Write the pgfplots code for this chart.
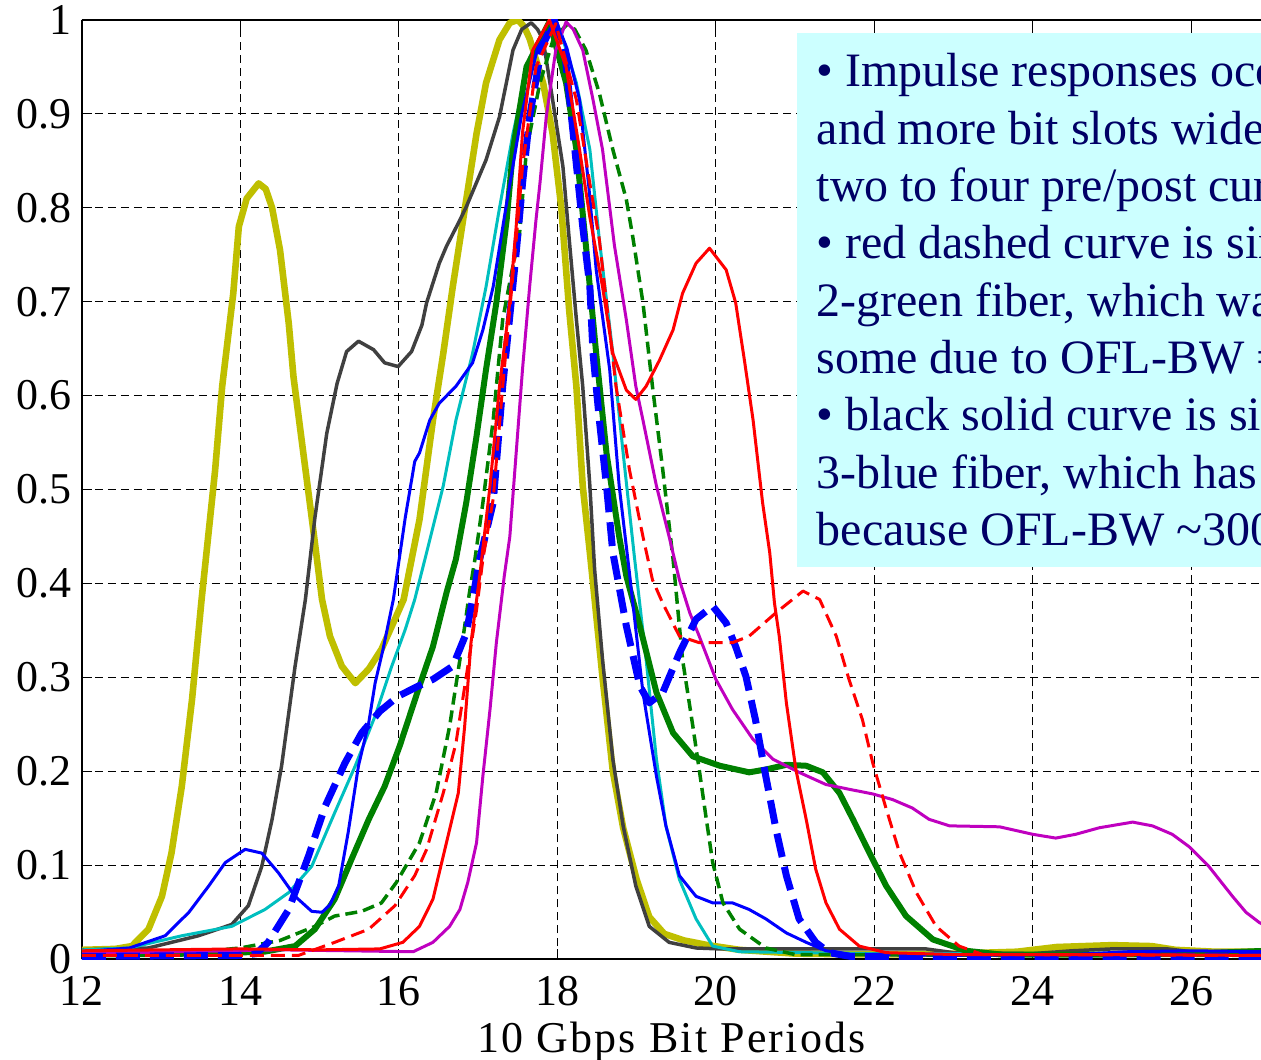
\documentclass[border=0pt]{standalone}
\usepackage{fontspec}
\setmainfont{Liberation Serif}
\usepackage{pgfplots}
\pgfplotsset{compat=1.18}
\definecolor{myyel}{HTML}{BFBF00}
\definecolor{mygray}{HTML}{404040}
\definecolor{mycyan}{HTML}{00BFBF}
\definecolor{mygreen}{HTML}{008000}
\definecolor{mymag}{HTML}{BF00BF}
\definecolor{boxfill}{HTML}{CCFFFF}
\definecolor{boxtext}{HTML}{000066}
\begin{document}
\begin{tikzpicture}
\begin{axis}[
  scale only axis, width=590pt, height=470pt,
  xmin=12, xmax=26.88, ymin=0, ymax=1,
  xtick={12,14,16,18,20,22,24,26},
  ytick={0,0.1,0.2,0.3,0.4,0.5,0.6,0.7,0.8,0.9,1},
  axis x line=box, axis y line*=left,
  tick align=inside, major tick length=5pt,
  grid=major,
  grid style={black, line width=0.5pt, dash pattern=on 4pt off 2.5pt},
  axis line style={black, line width=0.75pt},
  tick style={black, line width=0.5pt},
  /pgf/number format/assume math mode=true,
  ticklabel style={font=\fontsize{22}{22}\selectfont},
  xticklabel style={yshift=-5pt},
  yticklabel style={xshift=-1.5pt},
  xlabel={10 Gbps Bit Periods},
  xlabel style={font=\fontsize{22}{22}\selectfont\addfontfeature{LetterSpace=5}, yshift=-1pt},
  line join=round,
]
\coordinate (sw) at (rel axis cs:0,0);
\coordinate (ne) at (rel axis cs:1,1);
% yellow thick
\addplot[myyel, line width=3.3pt] coordinates {
(12,0.010)(12.42,0.011)(12.63,0.014)(12.84,0.032)(13.01,0.067)(13.13,0.113)(13.26,0.184)(13.39,0.277)(13.51,0.383)(13.68,0.52)(13.77,0.61)(13.91,0.709)(13.98,0.78)(14.08,0.81)(14.23,0.826)(14.32,0.82)(14.40,0.80)(14.50,0.755)(14.61,0.677)(14.67,0.62)(14.80,0.535)(14.90,0.47)(15.03,0.383)(15.13,0.344)(15.28,0.312)(15.45,0.294)(15.62,0.309)(15.78,0.33)(15.95,0.362)(16.06,0.383)(16.26,0.468)(16.43,0.574)(16.56,0.645)(16.68,0.716)(16.81,0.787)(16.98,0.879)(17.10,0.933)(17.27,0.979)(17.40,0.997)(17.50,1.0)(17.58,0.993)(17.65,0.98)(17.82,0.933)(17.94,0.879)(18.05,0.80)(18.15,0.69)(18.24,0.61)(18.32,0.504)(18.41,0.433)(18.45,0.40)(18.57,0.30)(18.70,0.20)(18.83,0.14)(19.0,0.085)(19.16,0.045)(19.35,0.027)(19.6,0.02)(19.9,0.015)(20.3,0.01)(21,0.006)(22,0.005)(23,0.006)(23.8,0.008)(24.3,0.013)(25.0,0.015)(25.5,0.014)(25.8,0.01)(26.3,0.008)(26.95,0.008)
};
% dark gray
\addplot[mygray, line width=1.75pt] coordinates {
(12,0.010)(12.84,0.012)(13.47,0.025)(13.89,0.037)(14.10,0.057)(14.27,0.099)(14.40,0.149)(14.52,0.206)(14.69,0.312)(14.82,0.383)(14.94,0.47)(15.09,0.56)(15.22,0.613)(15.34,0.647)(15.49,0.658)(15.68,0.649)(15.82,0.635)(15.99,0.631)(16.16,0.647)(16.29,0.675)(16.35,0.699)(16.51,0.741)(16.60,0.759)(16.77,0.787)(16.85,0.801)(17.10,0.851)(17.27,0.897)(17.44,0.968)(17.55,0.99)(17.67,0.997)(17.75,0.99)(17.82,0.979)(17.94,0.915)(18.07,0.844)(18.15,0.766)(18.24,0.681)(18.32,0.61)(18.41,0.504)(18.47,0.415)(18.57,0.319)(18.70,0.213)(18.83,0.142)(18.99,0.078)(19.16,0.035)(19.41,0.018)(19.75,0.012)(20.05,0.011)(22.65,0.011)(23.0,0.007)(24.0,0.006)(24.5,0.009)(25.0,0.011)(25.7,0.011)(26.0,0.008)(26.95,0.007)
};
% cyan
\addplot[mycyan, line width=1.5pt] coordinates {
(12,0.01)(12.6,0.012)(13.26,0.025)(13.89,0.035)(14.31,0.053)(14.61,0.071)(14.90,0.099)(15.19,0.156)(15.45,0.206)(15.70,0.259)(15.91,0.312)(16.08,0.351)(16.20,0.383)(16.35,0.433)(16.56,0.504)(16.72,0.574)(16.93,0.645)(17.10,0.716)(17.27,0.80)(17.44,0.879)(17.65,0.96)(17.94,0.996)(18.05,0.985)(18.24,0.933)(18.41,0.862)(18.53,0.766)(18.70,0.645)(18.83,0.539)(18.97,0.43)(19.12,0.319)(19.25,0.213)(19.37,0.142)(19.54,0.085)(19.75,0.043)(19.96,0.014)(20.3,0.008)(22,0.006)(26.95,0.006)
};
% green thick
\addplot[mygreen, line width=3pt] coordinates {
(12,0.005)(13.5,0.006)(14.3,0.008)(14.69,0.014)(14.94,0.032)(15.19,0.064)(15.40,0.106)(15.62,0.149)(15.82,0.184)(16.01,0.227)(16.26,0.291)(16.43,0.333)(16.60,0.39)(16.72,0.426)(16.85,0.486)(16.98,0.557)(17.10,0.628)(17.23,0.699)(17.36,0.787)(17.44,0.862)(17.61,0.95)(17.90,0.998)(18.11,0.933)(18.24,0.862)(18.36,0.76)(18.49,0.645)(18.62,0.539)(18.78,0.45)(18.87,0.408)(19.04,0.355)(19.25,0.284)(19.46,0.241)(19.71,0.216)(20.05,0.206)(20.42,0.199)(20.63,0.202)(20.89,0.207)(21.14,0.206)(21.35,0.199)(21.56,0.177)(21.73,0.149)(21.94,0.113)(22.15,0.078)(22.40,0.046)(22.74,0.021)(23.16,0.009)(23.6,0.005)(25,0.005)(26,0.006)(26.95,0.009)
};
% blue thin
\addplot[blue, line width=1.5pt] coordinates {
(12,0.008)(12.6,0.012)(13.05,0.025)(13.35,0.05)(13.60,0.078)(13.81,0.103)(14.06,0.117)(14.27,0.113)(14.48,0.092)(14.69,0.067)(14.90,0.051)(15.03,0.05)(15.13,0.058)(15.24,0.078)(15.36,0.135)(15.49,0.206)(15.62,0.252)(15.70,0.294)(15.80,0.33)(15.93,0.383)(16.08,0.47)(16.20,0.53)(16.26,0.539)(16.39,0.574)(16.51,0.592)(16.72,0.61)(16.93,0.635)(17.06,0.67)(17.19,0.716)(17.35,0.80)(17.55,0.90)(17.75,0.97)(17.98,1.0)(18.12,0.97)(18.28,0.915)(18.40,0.82)(18.49,0.734)(18.66,0.628)(18.78,0.504)(18.91,0.411)(19.08,0.284)(19.25,0.195)(19.37,0.142)(19.54,0.089)(19.75,0.067)(19.96,0.06)(20.21,0.06)(20.42,0.053)(20.63,0.043)(20.89,0.028)(21.14,0.018)(21.39,0.009)(21.7,0.005)(23,0.004)(24.5,0.005)(25.2,0.008)(26,0.009)(26.95,0.008)
};
% green dashed
\addplot[mygreen, line width=1.75pt, dash pattern=on 6pt off 3pt] coordinates {
(12,0.006)(13.5,0.008)(14.0,0.012)(14.5,0.02)(14.94,0.035)(15.19,0.046)(15.53,0.051)(15.78,0.06)(15.97,0.082)(16.26,0.124)(16.47,0.177)(16.64,0.248)(16.77,0.319)(16.89,0.39)(16.96,0.426)(17.06,0.486)(17.19,0.574)(17.31,0.681)(17.42,0.73)(17.52,0.77)(17.61,0.862)(17.78,0.933)(17.95,0.98)(18.12,0.995)(18.22,0.99)(18.36,0.968)(18.53,0.922)(18.70,0.862)(18.87,0.809)(18.95,0.77)(19.08,0.699)(19.20,0.61)(19.33,0.521)(19.46,0.426)(19.58,0.319)(19.71,0.248)(19.79,0.202)(19.88,0.149)(19.96,0.103)(20.09,0.06)(20.30,0.032)(20.63,0.012)(21,0.005)(26.95,0.004)
};
% magenta
\addplot[mymag, line width=1.5pt] coordinates {
(12,0.006)(14.5,0.01)(16.18,0.008)(16.43,0.018)(16.64,0.035)(16.77,0.053)(16.87,0.082)(16.98,0.124)(17.06,0.195)(17.15,0.266)(17.23,0.337)(17.33,0.408)(17.40,0.45)(17.48,0.539)(17.56,0.628)(17.65,0.716)(17.73,0.787)(17.78,0.826)(17.86,0.897)(17.98,0.968)(18.11,0.998)(18.20,0.99)(18.32,0.968)(18.45,0.915)(18.57,0.862)(18.72,0.76)(18.87,0.681)(18.99,0.61)(19.08,0.574)(19.25,0.504)(19.41,0.45)(19.54,0.404)(19.67,0.369)(19.79,0.344)(20.00,0.298)(20.21,0.266)(20.47,0.234)(20.72,0.213)(21.05,0.199)(21.39,0.186)(21.68,0.181)(21.98,0.176)(22.23,0.17)(22.48,0.161)(22.69,0.149)(22.95,0.142)(23.58,0.141)(24.00,0.133)(24.29,0.129)(24.54,0.133)(24.84,0.14)(25.26,0.146)(25.51,0.142)(25.76,0.133)(25.97,0.12)(26.22,0.099)(26.52,0.067)(26.69,0.05)(26.86,0.039)(26.95,0.035)
};
% blue dashed thick
\addplot[blue, line width=3.5pt, dash pattern=on 12pt off 5pt] coordinates {
(12,0.003)(14,0.004)(14.2,0.006)(14.35,0.018)(14.61,0.053)(14.86,0.11)(15.07,0.163)(15.32,0.209)(15.53,0.241)(15.76,0.264)(15.99,0.28)(16.25,0.291)(16.43,0.298)(16.68,0.312)(16.85,0.347)(16.93,0.383)(17.02,0.426)(17.19,0.486)(17.31,0.61)(17.48,0.752)(17.56,0.826)(17.65,0.897)(17.80,0.97)(17.96,1.0)(18.10,0.96)(18.20,0.879)(18.32,0.78)(18.41,0.716)(18.45,0.645)(18.53,0.574)(18.62,0.504)(18.70,0.433)(18.87,0.355)(19.04,0.291)(19.16,0.273)(19.33,0.284)(19.54,0.326)(19.75,0.362)(19.96,0.376)(20.13,0.358)(20.25,0.333)(20.38,0.301)(20.50,0.255)(20.63,0.195)(20.76,0.138)(20.89,0.089)(21.05,0.043)(21.26,0.018)(21.43,0.007)(21.7,0.003)(26.95,0.003)
};
% red dashed
\addplot[red, line width=1.5pt, dash pattern=on 7pt off 3.5pt] coordinates {
(12,0.004)(14,0.004)(14.73,0.004)(15.19,0.018)(15.62,0.032)(15.95,0.057)(16.20,0.089)(16.35,0.117)(16.56,0.177)(16.72,0.23)(16.85,0.301)(16.98,0.372)(17.06,0.426)(17.19,0.49)(17.31,0.61)(17.48,0.766)(17.56,0.844)(17.73,0.95)(17.98,0.996)(18.24,0.915)(18.41,0.826)(18.53,0.766)(18.62,0.699)(18.74,0.61)(18.91,0.521)(19.08,0.45)(19.20,0.404)(19.33,0.379)(19.54,0.344)(19.79,0.337)(20.21,0.337)(20.42,0.344)(20.76,0.369)(21.10,0.392)(21.31,0.383)(21.52,0.344)(21.68,0.298)(21.85,0.255)(21.98,0.209)(22.15,0.16)(22.32,0.113)(22.53,0.071)(22.78,0.035)(23.07,0.014)(23.37,0.005)(26.95,0.004)
};
% red solid
\addplot[red, line width=1.5pt] coordinates {
(12,0.009)(13,0.010)(14,0.011)(15,0.010)(15.76,0.011)(16.05,0.018)(16.26,0.035)(16.43,0.064)(16.60,0.124)(16.75,0.177)(16.83,0.248)(16.91,0.337)(17.02,0.408)(17.15,0.504)(17.27,0.61)(17.40,0.70)(17.48,0.78)(17.56,0.88)(17.69,0.968)(17.90,1.0)(18.11,0.95)(18.28,0.862)(18.41,0.79)(18.57,0.716)(18.70,0.645)(18.87,0.606)(18.99,0.596)(19.12,0.61)(19.29,0.638)(19.46,0.67)(19.58,0.709)(19.75,0.741)(19.92,0.757)(20.13,0.734)(20.25,0.699)(20.36,0.638)(20.47,0.574)(20.59,0.486)(20.68,0.433)(20.74,0.379)(20.80,0.344)(20.89,0.273)(21.01,0.202)(21.14,0.149)(21.26,0.096)(21.39,0.06)(21.56,0.032)(21.81,0.014)(22.15,0.007)(23,0.005)(25,0.005)(26.95,0.004)
};
\node[anchor=north west, fill=boxfill, inner xsep=10pt, inner ysep=10.5pt, text=boxtext, align=left,
  font=\fontsize{24}{28.7}\selectfont] at (axis cs:21.016,0.987)
{• Impulse responses occupy three\\
and more bit slots wider, with\\
two to four pre/post cursors\\
• red dashed curve is similar to\\
2-green fiber, which was\\
some due to OFL-BW = 1000\\
• black solid curve is similar\\
3-blue fiber, which has\\
because OFL-BW \textasciitilde 3000};
\end{axis}
\pgfresetboundingbox
\path[use as bounding box] ([xshift=-41pt,yshift=-50pt]sw) rectangle ([yshift=10pt]ne);
\end{tikzpicture}
\end{document}
